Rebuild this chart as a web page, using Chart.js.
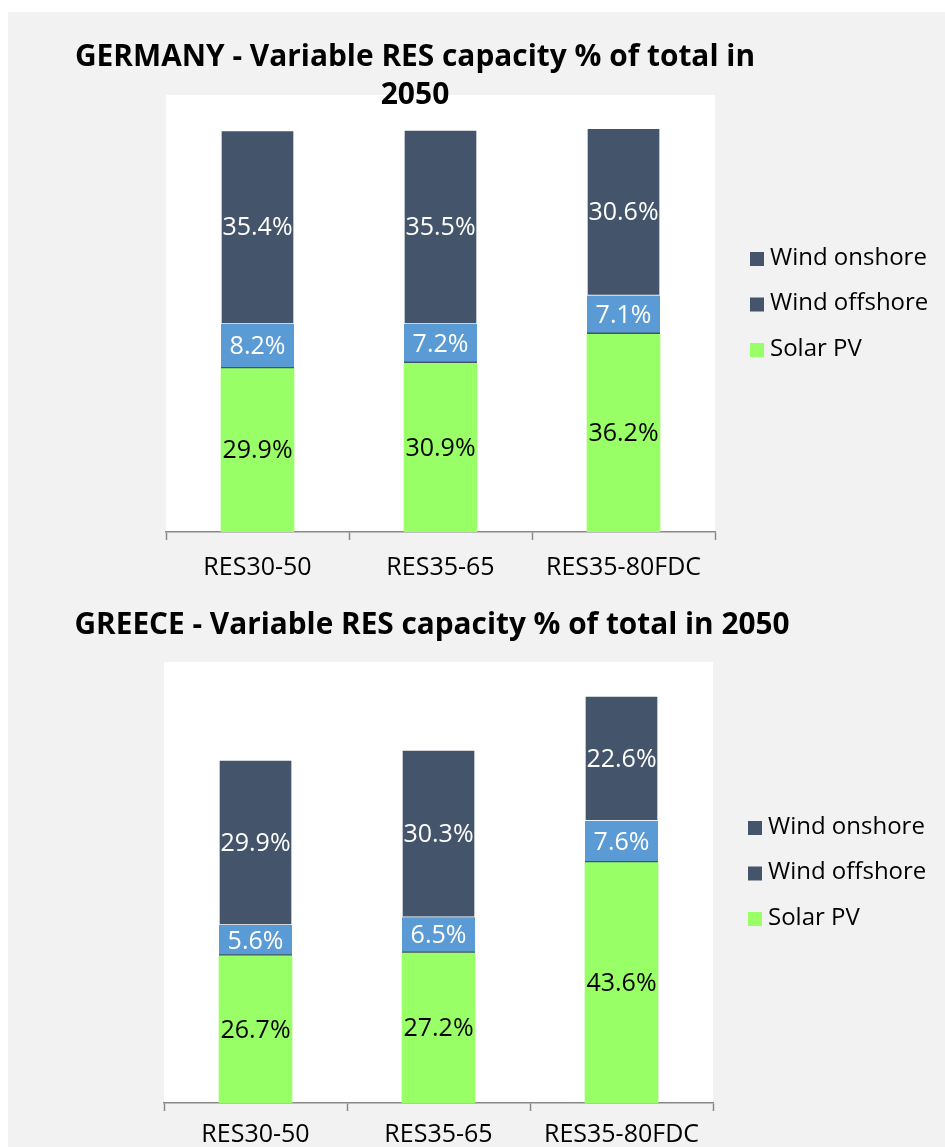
<!DOCTYPE html>
<html>
<head>
<meta charset="utf-8">
<script src="https://cdn.jsdelivr.net/npm/chart.js@4.4.1/dist/chart.umd.min.js"></script>
<style>
  html, body { margin: 0; padding: 0; background: #ffffff; }
  #panel { position: absolute; left: 8px; top: 12px; width: 937px; height: 1135px; background: #f2f2f2; }
  .box { position: absolute; left: 0; width: 937px; }
  #boxGermany { top: 0; height: 566px; }
  #boxGreece { top: 566px; height: 569px; }
</style>
</head>
<body>
<div id="panel">
  <div class="box" id="boxGermany"><canvas id="germanyChart"></canvas></div>
  <div class="box" id="boxGreece"><canvas id="greeceChart"></canvas></div>
</div>
<script>
// Datos (% de capacidad total en 2050)
const categories = ['RES30-50', 'RES35-65', 'RES35-80FDC'];
const seriesNames = ['Solar PV', 'Wind offshore', 'Wind onshore'];

const germanySolar = [29.9, 30.9, 36.2];
const germanyOffshore = [8.2, 7.2, 7.1];
const germanyOnshore = [35.4, 35.5, 30.6];

const greeceSolar = [26.7, 27.2, 43.6];
const greeceOffshore = [5.6, 6.5, 7.6];
const greeceOnshore = [29.9, 30.3, 22.6];

const yMin = 0;
const yMax = 80;

// Colores estilo Office
const colorSolar = '#99ff66';
const colorOffshore = '#5b9bd5';
const colorOnshore = '#44546a';
const axisGray = '#898989';
const FONT = "'Open Sans', sans-serif";

// Fondo blanco del área de trazado
const plotAreaPlugin = {
    id: 'plotArea',
    beforeDraw(chart) {
        const { ctx, chartArea: a } = chart;
        ctx.save();
        ctx.fillStyle = '#ffffff';
        ctx.fillRect(a.left, a.top, a.right - a.left, a.bottom - a.top);
        ctx.restore();
    }
};

// Etiquetas de valor centradas en cada segmento
const valueLabelsPlugin = {
    id: 'valueLabels',
    afterDatasetsDraw(chart) {
        const { ctx } = chart;
        ctx.save();
        ctx.font = `25px ${FONT}`;
        ctx.textAlign = 'center';
        ctx.textBaseline = 'middle';
        chart.data.datasets.forEach((ds, i) => {
            const meta = chart.getDatasetMeta(i);
            ctx.fillStyle = ds.labelColor;
            meta.data.forEach((bar, j) => {
                const { x, y, base } = bar.getProps(['x', 'y', 'base'], true);
                ctx.fillText(ds.data[j].toFixed(1) + '%', x, (y + base) / 2 + 1);
            });
        });
        ctx.restore();
    }
};

// Título (se superpone al área de trazado como en el original)
const titlePlugin = {
    id: 'bigTitle',
    afterDraw(chart, args, opts) {
        const { ctx } = chart;
        ctx.save();
        ctx.font = `bold 30px ${FONT}`;
        ctx.fillStyle = '#000000';
        ctx.textAlign = 'center';
        ctx.textBaseline = 'middle';
        opts.lines.forEach((line, k) => {
            ctx.fillText(line, opts.x, opts.y + k * 38, opts.widths[k]);
        });
        ctx.restore();
    }
};

// Leyenda a la derecha (orden inverso a la pila)
const sideLegendPlugin = {
    id: 'sideLegend',
    afterDraw(chart) {
        const { ctx, chartArea: a } = chart;
        const items = chart.data.datasets.slice().reverse();
        const step = 45.5;
        const midY = (a.top + a.bottom) / 2 - 10;
        const x0 = a.right + 35;
        ctx.save();
        ctx.font = `24px ${FONT}`;
        ctx.textAlign = 'left';
        ctx.textBaseline = 'middle';
        items.forEach((ds, k) => {
            const cy = midY + (k - 1) * step;
            ctx.fillStyle = ds.legendColor;
            ctx.fillRect(x0, cy - 6, 14, 14);
            ctx.fillStyle = '#000000';
            ctx.fillText(ds.label, x0 + 20, cy);
        });
        ctx.restore();
    }
};

function buildChart(canvasId, solar, offshore, onshore, layout, title, axisHeight, tickPad) {
    return new Chart(document.getElementById(canvasId), {
        type: 'bar',
        data: {
            labels: categories,
            datasets: [
                {
                    label: seriesNames[0], data: solar,
                    backgroundColor: colorSolar, labelColor: '#000000', legendColor: colorSolar,
                    borderWidth: 0
                },
                {
                    label: seriesNames[1], data: offshore,
                    backgroundColor: colorOffshore, labelColor: '#ffffff', legendColor: colorOnshore,
                    borderColor: colorOnshore, borderSkipped: false,
                    borderWidth: { top: 0, left: 0, right: 0, bottom: 2 }
                },
                {
                    label: seriesNames[2], data: onshore,
                    backgroundColor: colorOnshore, labelColor: '#ffffff', legendColor: colorOnshore,
                    borderColor: 'rgba(255,255,255,0.35)', borderSkipped: false, borderWidth: 1
                }
            ]
        },
        plugins: [plotAreaPlugin, valueLabelsPlugin, titlePlugin, sideLegendPlugin],
        options: {
            responsive: true,
            maintainAspectRatio: false,
            animation: false,
            barThickness: 73,
            layout: { padding: layout },
            plugins: {
                legend: { display: false },
                tooltip: { enabled: false },
                bigTitle: title
            },
            scales: {
                x: {
                    stacked: true,
                    offset: true,
                    afterFit(scale) { scale.height = axisHeight; },
                    grid: {
                        display: true, offset: true, drawOnChartArea: false,
                        drawTicks: true, tickLength: 8, tickWidth: 1.5, tickColor: axisGray
                    },
                    border: { display: true, color: axisGray, width: 1.5 },
                    ticks: { color: '#000000', padding: tickPad, font: { family: FONT, size: 25 } }
                },
                y: {
                    stacked: true,
                    display: false,
                    min: yMin,
                    max: yMax
                }
            }
        }
    });
}

buildChart('germanyChart', germanySolar, germanyOffshore, germanyOnshore,
    { left: 158, top: 83, right: 230, bottom: 0 },
    { lines: ['GERMANY - Variable RES capacity % of total in', '2050'], x: 407, y: 45, widths: [680, 200] },
    46, 13);

buildChart('greeceChart', greeceSolar, greeceOffshore, greeceOnshore,
    { left: 156, top: 84, right: 232, bottom: 0 },
    { lines: ['GREECE - Variable RES capacity % of total in 2050'], x: 424, y: 47, widths: [715] },
    44, 9);
</script>
</body>
</html>
